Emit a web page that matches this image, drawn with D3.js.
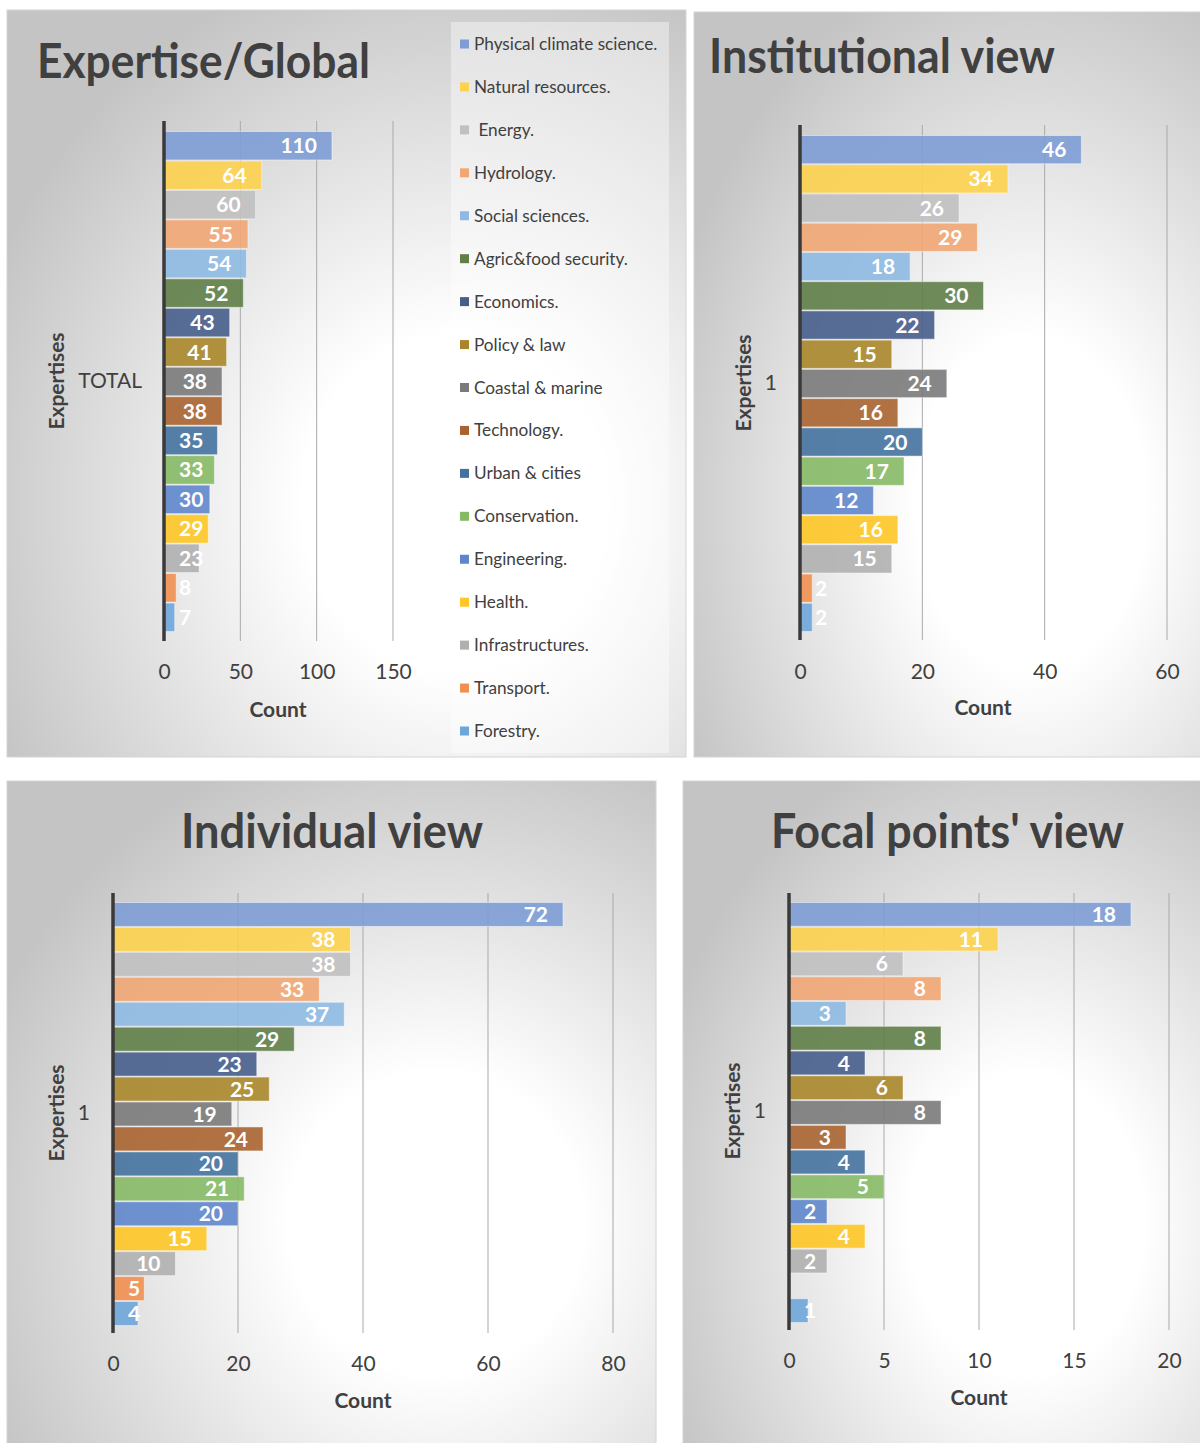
<!DOCTYPE html>
<html><head><meta charset="utf-8">
<script src="https://cdn.jsdelivr.net/npm/d3@7"></script>
<style>
body{margin:0;background:#fff}
svg{display:block}
text{font-family:Lato,"Open Sans",sans-serif}
</style>
</head><body>
<svg id="chart" width="1200" height="1443"></svg>
<script>
// ---------- DATA ----------
const expertises = ["Physical climate science.","Natural resources."," Energy.","Hydrology.","Social sciences.","Agric&food security.","Economics.","Policy & law","Coastal & marine","Technology.","Urban & cities","Conservation.","Engineering.","Health.","Infrastructures.","Transport.","Forestry."];
const seriesColors = ["#7e9dd5","#fdd24f","#c0c0c0","#f1a673","#8eb9e2","#5f7e48","#475e8b","#a8862a","#7a7a7a","#a96330","#44729f","#86b965","#5f86cc","#fec626","#b0b0b0","#ef8f50","#6ea6da"];
const globalCounts        = [110,64,60,55,54,52,43,41,38,38,35,33,30,29,23,8,7];
const institutionalCounts = [46,34,26,29,18,30,22,15,24,16,20,17,12,16,15,2,2];
const individualCounts    = [72,38,38,33,37,29,23,25,19,24,20,21,20,15,10,5,4];
const focalCounts         = [18,11,6,8,3,8,4,6,8,3,4,5,2,4,2,null,1];
const globalTicks        = [0,50,100,150];
const institutionalTicks = [0,20,40,60];
const individualTicks    = [0,20,40,60,80];
const focalTicks         = [0,5,10,15,20];
const titles = ["Expertise/Global","Institutional view","Individual view","Focal points' view"];
const categoryLabels = ["TOTAL","1","1","1"];
const yAxisTitle = "Expertises";
const xAxisTitle = "Count";

// ---------- LAYOUT ----------
const panels = [
  {data:globalCounts, ticks:globalTicks, title:titles[0], cat:categoryLabels[0],
   frame:[7,10,679,747], axisX:164, plotTop:121, plotBottom:641, barTop:131, barBottom:632, xRight:393,
   titleX:37, titleY:78, titleW:333, catX:142, yTitleX:57, midY:381, tickY:672, countX:278, countY:710},
  {data:institutionalCounts, ticks:institutionalTicks, title:titles[1], cat:categoryLabels[1],
   frame:[694,12,510,745], axisX:800, plotTop:125, plotBottom:640, barTop:135, barBottom:632, xRight:1167,
   titleX:709, titleY:73, titleW:346, catX:777, yTitleX:744, midY:383, tickY:672, countX:983, countY:708},
  {data:individualCounts, ticks:individualTicks, title:titles[2], cat:categoryLabels[2],
   frame:[7,781,649,670], axisX:113, plotTop:893, plotBottom:1333, barTop:902, barBottom:1326, xRight:613,
   titleX:181, titleY:848, titleW:302, catX:90, yTitleX:57, midY:1113, tickY:1364, countX:363, countY:1401},
  {data:focalCounts, ticks:focalTicks, title:titles[3], cat:categoryLabels[3],
   frame:[683,781,520,670], axisX:789, plotTop:893, plotBottom:1330, barTop:902, barBottom:1323, xRight:1169,
   titleX:771, titleY:848, titleW:353, catX:766, yTitleX:733, midY:1111, tickY:1361, countX:979, countY:1398}
];

const svg = d3.select("#chart");
const defs = svg.append("defs");
const grad = defs.append("radialGradient").attr("id","bg")
  .attr("cx","0.66").attr("cy","0.66").attr("r","0.75");
grad.append("stop").attr("offset","0").attr("stop-color","#ffffff");
grad.append("stop").attr("offset","0.3").attr("stop-color","#ffffff");
grad.append("stop").attr("offset","1").attr("stop-color","#c4c4c4");

panels.forEach(p => {
  const g = svg.append("g");
  const [fx,fy,fw,fh] = p.frame;
  g.append("rect").attr("x",fx).attr("y",fy).attr("width",fw).attr("height",fh)
    .attr("fill","url(#bg)").attr("stroke","#d4d4d4").attr("stroke-width",1);

  const xMax = p.ticks[p.ticks.length-1];
  const x = d3.scaleLinear().domain([0,xMax]).range([p.axisX,p.xRight]);
  const y = d3.scaleBand().domain(expertises).range([p.barTop,p.barBottom]).padding(0);

  // gridlines
  g.append("g").selectAll("line").data(p.ticks.slice(1)).join("line")
    .attr("x1",d=>x(d)).attr("x2",d=>x(d)).attr("y1",p.plotTop).attr("y2",p.plotBottom)
    .attr("stroke","#a9a9a9").attr("stroke-width",1);

  // tick labels via d3 axis
  const ax = g.append("g").attr("transform",`translate(0,${p.tickY})`)
    .call(d3.axisBottom(x).tickValues(p.ticks).tickSize(0).tickPadding(0).tickFormat(d3.format("d")));
  ax.select(".domain").remove();
  ax.selectAll("text").attr("y",0).attr("dy","0.35em")
    .attr("font-size",21).attr("fill","#404040").attr("font-family","Lato, sans-serif");

  // bars
  const rows = expertises.map((e,i)=>({name:e, v:p.data[i], c:seriesColors[i]})).filter(r=>r.v!=null);
  g.append("g").selectAll("rect").data(rows).join("rect")
    .attr("x",x(0)).attr("y",d=>y(d.name)+0.5)
    .attr("width",d=>x(d.v)-x(0)).attr("height",y.bandwidth()-1)
    .attr("fill",d=>d.c).attr("fill-opacity",0.9)
    .attr("stroke","#ffffff").attr("stroke-opacity",0.45).attr("stroke-width",1);

  // value labels
  const lab = g.append("g").selectAll("text").data(rows).join("text")
    .attr("y",d=>y(d.name)+y.bandwidth()/2).attr("dy","0.36em")
    .attr("font-size",21).attr("font-weight","bold").attr("fill","#ffffff")
    .text(d=>d.v);
  lab.each(function(d){
    const w = this.getComputedTextLength();
    const left = Math.max(x(d.v)-15-w, x(0)+15);
    d3.select(this).attr("x",left);
  });

  // axis line
  g.append("line").attr("x1",p.axisX).attr("x2",p.axisX).attr("y1",p.plotTop).attr("y2",p.plotBottom)
    .attr("stroke","#3a3a3a").attr("stroke-width",3.5);

  // title
  g.append("text").attr("x",p.titleX).attr("y",p.titleY)
    .attr("font-size",47).attr("font-weight","bold").attr("fill","#404040")
    .attr("textLength",p.titleW).attr("lengthAdjust","spacingAndGlyphs").text(p.title);

  // category label
  g.append("text").attr("x",p.catX).attr("y",p.midY).attr("dy","0.35em").attr("text-anchor","end")
    .attr("font-size",21).attr("fill","#404040").text(p.cat);

  // y axis title
  g.append("text").attr("transform",`translate(${p.yTitleX},${p.midY}) rotate(-90)`)
    .attr("text-anchor","middle").attr("dy","0.35em")
    .attr("font-size",21).attr("font-weight","bold").attr("fill","#404040").text(yAxisTitle);

  // x axis title
  g.append("text").attr("x",p.countX).attr("y",p.countY).attr("dy","0.35em").attr("text-anchor","middle")
    .attr("font-size",21).attr("font-weight","bold").attr("fill","#404040").text(xAxisTitle);
});

// legend (first panel)
const leg = svg.append("g");
leg.append("rect").attr("x",451).attr("y",22).attr("width",218).attr("height",731)
  .attr("fill","#ffffff").attr("fill-opacity",0.4);
const ly = d3.scalePoint().domain(expertises).range([44,731]);
const li = leg.selectAll("g").data(expertises.map((e,i)=>({name:e,c:seriesColors[i]}))).join("g")
  .attr("transform",d=>`translate(0,${ly(d.name)})`);
li.append("rect").attr("x",460).attr("y",-4.5).attr("width",9).attr("height",9).attr("fill",d=>d.c);
li.append("text").attr("x",474).attr("dy","0.35em").attr("font-size",17.2).attr("fill","#404040")
  .style("white-space","pre").text(d=>d.name);
</script>
</body></html>
